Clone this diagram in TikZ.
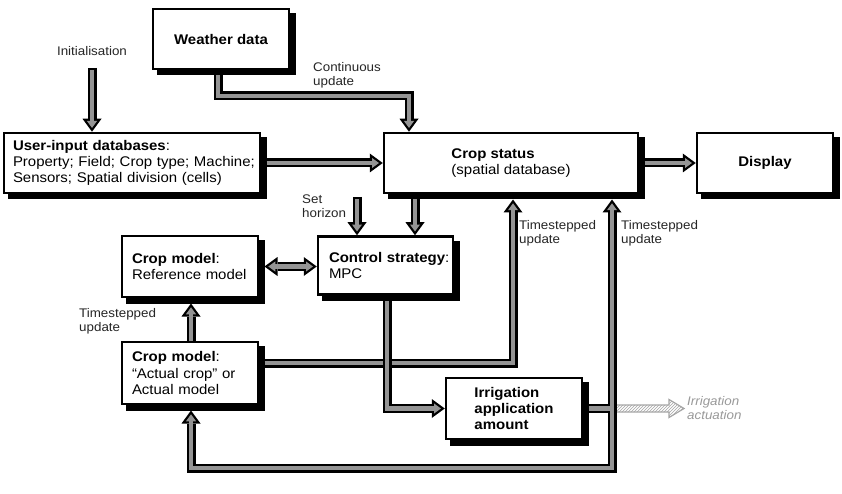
\documentclass[tikz,border=0pt]{standalone}
\usepackage{fontspec}
\setmainfont{Liberation Sans}[FakeStretch=1.07]
\usetikzlibrary{arrows.meta,patterns}
\hyphenpenalty=10000
\exhyphenpenalty=10000
\newcommand\boxfont{\fontsize{14}{16.3}\selectfont}
\newcommand\lblfont{\fontsize{12.5}{14}\selectfont}
\newcommand\setblack{\tikzset{
  fl/.style={line width=9pt,draw=black},
  ar/.style={-{Triangle[length=13pt,width=19pt,line width=0pt]}},
  arr/.style={{Triangle[length=13pt,width=19pt,line width=0pt]}-{Triangle[length=13pt,width=19pt,line width=0pt]}},
  fs/.style={}}}
\newcommand\setgray{\tikzset{
  fl/.style={line width=4.5pt,draw=black!42},
  ar/.style={-{Triangle[length=6.94pt,width=10.1pt,line width=0pt]},shorten >=3.81pt},
  arr/.style={{Triangle[length=6.94pt,width=10.1pt,line width=0pt]}-{Triangle[length=6.94pt,width=10.1pt,line width=0pt]},shorten <=3.81pt,shorten >=3.81pt},
  fs/.style={shorten <=2.25pt}}}
\newcommand\myflows{%
  \draw[fl,ar,fs] (inittop) -- (xi |- user.north);
  \draw[fl,ar] (xw |- wb) |- (xcs |- yw) -- (xcs |- cs.north);
  \draw[fl,ar] (ue) -- (cs.west);
  \draw[fl,ar] (ce) -- (disp.west);
  \draw[fl,ar] (xc |- csb) -- (xc |- ctrl.north);
  \draw[fl,ar,fs] (shtop) -- (xh |- ctrl.north);
  \draw[fl,arr] (re) -- (re -| ctrl.west);
  \draw[fl,ar] (xa |- actual.north) -- (xa |- refb);
  \draw[fl,ar] (ae |- yam) -| (xm |- csb);
  \draw[fl,ar] (ie) -- (xr |- ie) -- (xr |- csb);
  \draw[fl,ar] (xr |- ie) -- (xr |- yb) -- (xa |- yb) -- (xa |- actb);
}
\newcommand\boxshadow[1]{%
  \fill[black] ([xshift=5.25pt,yshift=-5.25pt]#1.south west) rectangle (#1.south east);
  \fill[black] ([xshift=5.25pt,yshift=-5.25pt]#1.south east) rectangle ([yshift=-5.25pt]#1.north east);
}
\begin{document}
\begin{tikzpicture}[x=1pt,y=-1pt,
  box/.style={draw=black, line width=2.5pt, fill=white, inner sep=0pt, align=left, font=\boxfont},
  lbl/.style={font=\lblfont, text=black!85, inner sep=0pt, align=left, anchor=north west}]
\fill[white] (0,0) rectangle (842,494);
% boxes
\node[box, minimum width=136pt, minimum height=60pt] (weather) at (221,39) {\textbf{Weather data}};
\node[box, text width=238pt, inner xsep=9pt, minimum height=60pt] (user) at (132,163)
  {\textbf{User-input databases}:\\Property;~Field;~Crop~type;~Machine;\\Sensors; Spatial division (cells)};
\node[box, minimum width=254pt, minimum height=60pt] (cs) at (511,163) {\textbf{Crop status}\\(spatial database)};
\node[box, minimum width=136pt, minimum height=60pt] (disp) at (765,163) {\textbf{Display}};
\node[box, text width=113pt, inner xsep=11pt, minimum height=58pt] (ctrl) at (385.5,265.5) {\textbf{Control~strategy}:\\MPC};
\node[box, text width=116pt, inner xsep=10pt, minimum height=61pt] (ref) at (190,266.5) {\textbf{Crop model}:\\Reference~model};
\node[box, text width=116pt, inner xsep=10pt, minimum height=62pt] (actual) at (190,373) {\textbf{Crop model}:\\“Actual crop” or\\Actual model};
\node[box, font=\boxfont\bfseries, minimum width=136pt, minimum height=61pt] (irr) at (514,408.5) {Irrigation\\application\\amount};
% shadows
\boxshadow{weather}
\boxshadow{user}
\boxshadow{cs}
\boxshadow{disp}
\boxshadow{ctrl}
\boxshadow{ref}
\boxshadow{actual}
\boxshadow{irr}
% labels
\node[lbl, anchor=base] (init) at (92,56) {Initialisation};
\node[lbl] (cont) at (313,62) {Continuous\\update};
\node[lbl] (seth) at (302,195) {Set\\horizon};
\node[lbl] (ts1) at (79,308) {Timestepped\\update};
\node[lbl] (ts2) at (519,220) {Timestepped\\update};
\node[lbl] (ts3) at (621,220) {Timestepped\\update};
\node[lbl, font=\lblfont\itshape, text=black!40] (actu) at (687,396) {Irrigation\\actuation};
% helper coordinates
\coordinate (xi) at (92,0);
\coordinate (inittop) at (92,68);
\coordinate (xw) at (218,0);
\coordinate (wb) at ([yshift=-5.25pt]weather.south);
\coordinate (xcs) at (409,0);
\coordinate (yw) at (0,96);
\coordinate (ue) at ([xshift=5.25pt]user.east);
\coordinate (ce) at ([xshift=5.25pt]cs.east);
\coordinate (csb) at ([yshift=-5.25pt]cs.south);
\coordinate (xc) at (415,0);
\coordinate (xh) at (357,0);
\coordinate (shtop) at (357,197);
\coordinate (re) at ([xshift=5.25pt]ref.east);
\coordinate (xa) at (191,0);
\coordinate (refb) at ([yshift=-5.25pt]ref.south);
\coordinate (ae) at ([xshift=5.25pt]actual.east);
\coordinate (yam) at (0,363);
\coordinate (xm) at (513,0);
\coordinate (ie) at ([xshift=5.25pt]irr.east);
\coordinate (xr) at (612,0);
\coordinate (yb) at (0,468);
\coordinate (actb) at ([yshift=-5.25pt]actual.south);
\coordinate (xci) at (387,0);
\coordinate (ctrlb) at ([yshift=-5.25pt]ctrl.south);
\coordinate (aj) at (xr |- irr.east);
% connectors
\setblack \myflows
\setgray \myflows
\setblack \draw[fl,ar] (xci |- ctrlb) |- (irr.west);
\setgray \draw[fl,ar] (xci |- ctrlb) |- (irr.west);
% irrigation actuation (hatched)
\draw[draw=black!35, line width=1.2pt, line join=miter, pattern=north east lines, pattern color=black!35]
  ([shift={(5,-3.5)}]aj) -- ([shift={(57,-3.5)}]aj) -- ([shift={(57,-9)}]aj) -- ([shift={(72,0)}]aj)
  -- ([shift={(57,9)}]aj) -- ([shift={(57,3.5)}]aj) -- ([shift={(5,3.5)}]aj);
\end{tikzpicture}
\end{document}
